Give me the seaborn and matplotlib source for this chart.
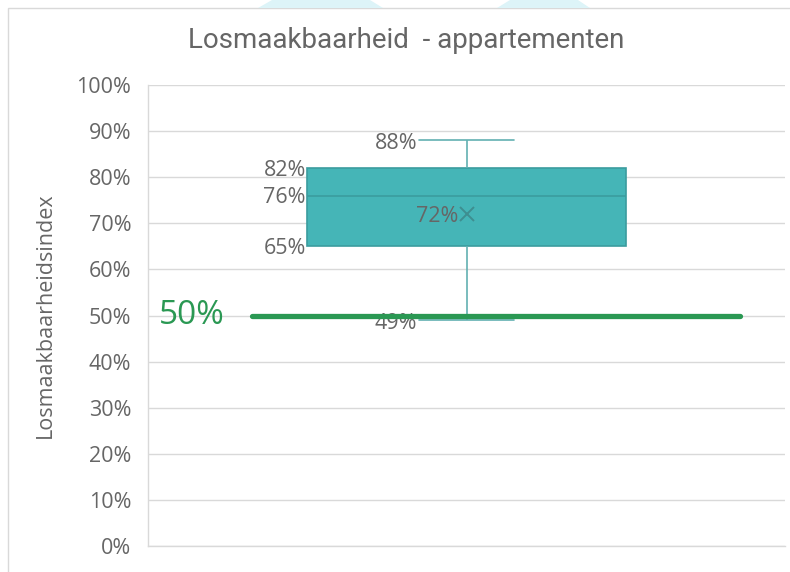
import matplotlib
matplotlib.use("Agg")
import matplotlib.pyplot as plt
from matplotlib.patches import Rectangle, Polygon
from matplotlib.ticker import FuncFormatter
import seaborn as sns
import pandas as pd

# Losmaakbaarheidsindex scores of the apartments (%)
scores = [49, 65, 76, 82, 88]
category = ["appartementen"] * len(scores)
threshold = 50
tick_values = [0, 10, 20, 30, 40, 50, 60, 70, 80, 90, 100]

title = "Losmaakbaarheid  - appartementen"
ylabel = "Losmaakbaarheidsindex"

df = pd.DataFrame({"groep": category, "index": scores})

sns.set_theme(style="white")
plt.rcParams["font.family"] = ["Open Sans", "DejaVu Sans"]

TEXT = "#666666"
GRID = "#D9D9D9"
BOX_FILL = "#45B5B7"
BOX_EDGE = "#3B9C9E"
WHISKER = "#62B0B1"
GREEN = "#2A9853"
FS = 15.5

fig = plt.figure(figsize=(7.9, 5.72), dpi=100)
ax = fig.add_axes([148 / 790, 26 / 572, 637 / 790, 461 / 572])

sns.boxplot(
    data=df, y="index", ax=ax, width=0.5, color=BOX_FILL, saturation=1,
    linecolor=BOX_EDGE, linewidth=1.2, showmeans=True, whis=3,
    meanprops=dict(marker="x", markeredgecolor="#3E8E90", markersize=10,
                   markeredgewidth=1.4),
    whiskerprops=dict(color=WHISKER), capprops=dict(color=WHISKER),
)

# narrow whisker caps
box = ax.containers[0]
for cap in box.caps:
    cap.set_xdata([-0.075, 0.075])

ax.set_xlim(-0.5, 0.5)
ax.set_ylim(0, 100)
ax.set_yticks(tick_values)
ax.yaxis.set_major_formatter(FuncFormatter(lambda v, p: f"{v:.0f}%"))
ax.tick_params(axis="y", labelsize=FS, labelcolor=TEXT, length=0, pad=12)
ax.set_xticks([])
ax.set_xlabel("")
ax.set_ylabel(ylabel, fontsize=FS, color=TEXT, labelpad=15)
ax.yaxis.grid(True, color=GRID, linewidth=1)
ax.set_axisbelow(True)
for side in ["top", "right"]:
    ax.spines[side].set_visible(False)
for side in ["left", "bottom"]:
    ax.spines[side].set_color(GRID)
    ax.spines[side].set_linewidth(1)

# threshold line
ax.axhline(threshold, xmin=0.163, xmax=0.929, color=GREEN, linewidth=3.8, zorder=5)
ax.annotate(f"{threshold}%", xy=(0.121, threshold), xycoords=("axes fraction", "data"),
            ha="right", va="center", fontsize=24, color=GREEN)

# value labels
ordered = sorted(scores)
lo, q1, med, q3, hi = ordered
mean_val = sum(scores) / len(scores)
lab = dict(fontsize=FS, color=TEXT, ha="right", va="center", textcoords="offset points")
for v in (q3, med, q1):
    ax.annotate(f"{v:.0f}%", xy=(-0.25, v), xytext=(-1, -1.5), **lab)
for v in (hi, lo):
    ax.annotate(f"{v:.0f}%", xy=(-0.075, v), xytext=(-1, -2.5), **lab)
ax.annotate(f"{mean_val:.0f}%", xy=(0, mean_val), xytext=(-6, -1.5), **lab)

fig.suptitle(title, x=(190 + 623) / 2 / 790, y=1 - 40 / 572, va="center",
             fontsize=20, color=TEXT, family=["Roboto", "DejaVu Sans"])

# chart frame and decorative header shapes
fig.add_artist(Rectangle((8 / 790, -0.01), 1.0, 1 - 8 / 572 + 0.01,
                         transform=fig.transFigure, fill=False,
                         edgecolor="#D9D9D9", linewidth=1))
for pts in ([(258, 8), (272, 0), (370, 0), (383, 8)],
            [(497, 8), (510, 0), (578, 0), (590, 8)]):
    fig.add_artist(Polygon([(x / 790, 1 - y / 572) for x, y in pts], closed=True,
                           transform=fig.transFigure, facecolor="#DDF4F8",
                           edgecolor="none"))

fig.savefig("out.png", dpi=100)
